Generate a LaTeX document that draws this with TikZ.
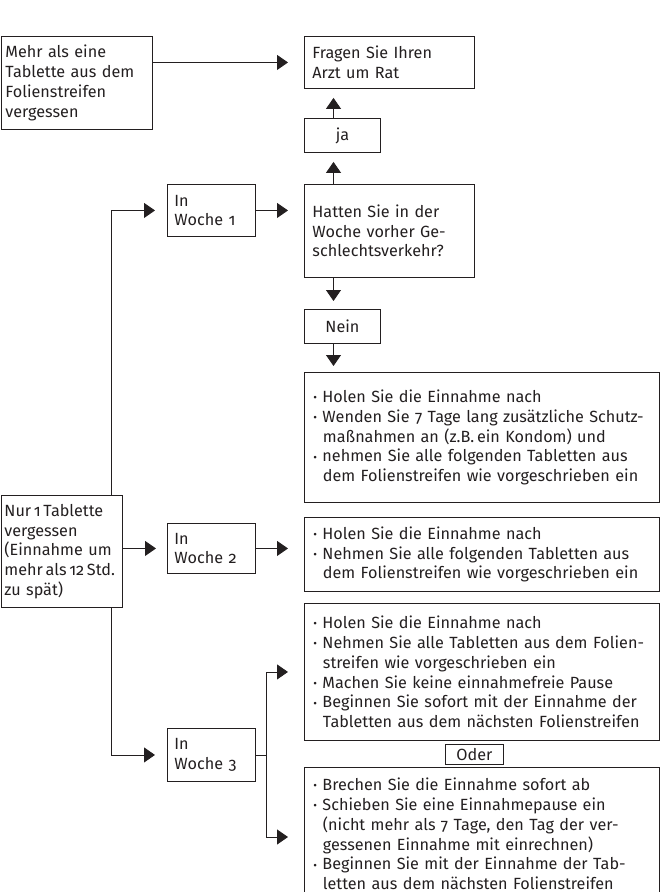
\documentclass[tikz,border=0pt]{standalone}
\usepackage{fontspec}
\setmainfont{Fira Sans}[Numbers=OldStyle]
\usetikzlibrary{arrows.meta}
\definecolor{ink}{HTML}{231F20}
\newcommand\bul{\makebox[9pt][l]{\raisebox{0.05em}{\scalebox{0.7}{•}}}}
\newcommand\li[1]{\mbox{\bul #1}}
\newcommand\lc[1]{\mbox{\hspace*{9.5pt}#1}}
\tikzset{
  box/.style={draw=ink, line width=0.9pt, anchor=north west, inner ysep=0pt, align=left, text=ink},
  cbox/.style={box, align=center, inner xsep=0pt},
  bigbox/.style={box, inner xsep=9pt, text width=337pt, minimum width=355pt},
  arr/.style={draw=ink, line width=0.9pt, -{Triangle[length=11pt,width=15pt]}},
  ln/.style={draw=ink, line width=0.9pt},
}
\begin{document}
\begin{tikzpicture}[x=1pt,y=-1pt,font=\fontsize{16.2}{19.8}\selectfont]
\useasboundingbox (0,0) rectangle (662,892);
\node[box, inner xsep=4pt, text width=143pt, minimum width=151pt, minimum height=93pt] (mehr) at (1,36)
  {Mehr als eine\\Tablette aus dem\\Folienstreifen\\vergessen};
\node[box, inner xsep=8pt, text width=154pt, minimum width=170pt, minimum height=52pt] (fragen) at (304,36)
  {Fragen Sie Ihren\\Arzt um Rat};
\node[cbox, minimum width=76pt, minimum height=34pt] (ja) at (304,118) {ja};
\node[box, inner xsep=7pt, text width=74pt, minimum width=88pt, minimum height=52pt] (w1) at (167,184)
  {In\\Woche 1};
\node[box, inner xsep=8pt, text width=154pt, minimum width=170pt, minimum height=93pt] (hatten) at (304,184)
  {Hatten Sie in der\\Woche vorher Ge-\\schlechtsverkehr?};
\node[cbox, minimum width=76pt, minimum height=34pt] (nein) at (304,309) {Nein};
\node[bigbox, minimum height=130pt] (box1) at (304,372)
  {\li{Holen Sie die Einnahme nach}\\
   \li{Wenden Sie 7 Tage lang zusätzliche Schutz-}\\
   \lc{maßnahmen an (z.B.\,ein Kondom) und}\\
   \li{nehmen Sie alle folgenden Tabletten aus}\\
   \lc{dem Folienstreifen wie vorgeschrieben ein}};
\node[box, inner xsep=3pt, text width=115pt, minimum width=121pt, minimum height=112pt] (nur) at (1,495)
  {\mbox{Nur\,1\,Tablette}\\vergessen\\\mbox{(Einnahme um}\\\mbox{mehr\hspace{0.17em}als\hspace{0.17em}12\,Std.}\\zu spät)};
\node[box, inner xsep=7pt, text width=74pt, minimum width=88pt, minimum height=50pt] (w2) at (167,523)
  {In\\Woche 2};
\node[bigbox, minimum height=74pt] (box2) at (304,517)
  {\li{Holen Sie die Einnahme nach}\\
   \li{Nehmen Sie alle folgenden Tabletten aus}\\
   \lc{dem Folienstreifen wie vorgeschrieben ein}};
\node[bigbox, minimum height=137pt] (box3) at (304,603)
  {\li{Holen Sie die Einnahme nach}\\
   \li{Nehmen Sie alle Tabletten aus dem Folien-}\\
   \lc{streifen wie vorgeschrieben ein}\\
   \li{Machen Sie keine einnahmefreie Pause}\\
   \li{Beginnen Sie sofort mit der Einnahme der}\\
   \lc{Tabletten aus dem nächsten Folienstreifen}};
\node[cbox, minimum width=58pt, minimum height=20pt] (oder) at (445,744) {Oder};
\node[box, inner xsep=7pt, text width=74pt, minimum width=88pt, minimum height=53pt] (w3) at (167,728)
  {In\\Woche 3};
\node[bigbox, minimum height=133pt] (box4) at (304,767)
  {\li{Brechen Sie die Einnahme sofort ab}\\
   \li{Schieben Sie eine Einnahmepause ein}\\
   \lc{(nicht mehr als 7 Tage, den Tag der ver-}\\
   \lc{gessenen Einnahme mit einrechnen)}\\
   \li{Beginnen Sie mit der Einnahme der Tab-}\\
   \lc{letten aus dem nächsten Folienstreifen}};
% guide coordinates
\coordinate (vx) at (333.5,0);
\coordinate (tx) at (111,0);
\coordinate (fx) at (266,0);
\coordinate (lowarr) at (0,837);
% connectors
\draw[arr, shorten >=16pt] (mehr.east |- fragen.west) -- (fragen.west);
\draw[arr, shorten >=9pt] (ja.north -| vx) -- (fragen.south -| vx);
\draw[arr, shorten >=9pt] (hatten.north -| vx) -- (ja.south -| vx);
\draw[arr, shorten >=8pt] (hatten.south -| vx) -- (nein.north -| vx);
\draw[arr, shorten >=6pt] (nein.south -| vx) -- (box1.north -| vx);
\draw[arr, shorten >=16pt] (w1.east) -- (w1.east -| hatten.west);
\draw[arr, shorten >=12pt] (tx |- nur.north) |- (w1.west);
\draw[arr, shorten >=11pt] (nur.east |- w2.west) -- (w2.west);
\draw[arr, shorten >=16pt] (w2.east) -- (w2.east -| box2.west);
\draw[arr, shorten >=12pt] (tx |- nur.south) |- (w3.west);
\draw[ln] (w3.east) -- (fx |- w3.east);
\draw[arr, shorten >=16pt] (fx |- w3.east) |- (box3.west);
\draw[arr, shorten >=16pt] (fx |- w3.east) |- (box4.west |- lowarr);
\end{tikzpicture}
\end{document}
